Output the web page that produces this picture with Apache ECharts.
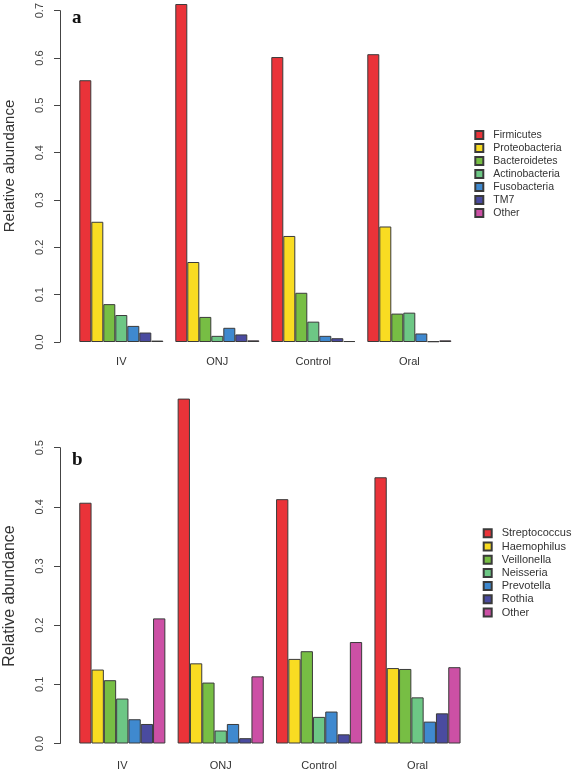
<!DOCTYPE html>
<html>
<head>
<meta charset="utf-8">
<script src="https://cdn.jsdelivr.net/npm/echarts@6/dist/echarts.min.js"></script>
<style>
html,body{margin:0;padding:0;background:#fff;}
#chart{width:572px;height:773px;}
</style>
</head>
<body>
<div id="chart"></div>
<script>
// ---- data ----
var categories = ['IV', 'ONJ', 'Control', 'Oral'];
var yTicksA = [0, 0.1, 0.2, 0.3, 0.4, 0.5, 0.6, 0.7];
var yTicksB = [0, 0.1, 0.2, 0.3, 0.4, 0.5];

var phylaNames = ['Firmicutes', 'Proteobacteria', 'Bacteroidetes', 'Actinobacteria', 'Fusobacteria', 'TM7', 'Other'];
var firmicutes     = [0.553, 0.714, 0.602, 0.608];
var proteobacteria = [0.254, 0.169, 0.224, 0.244];
var bacteroidetes  = [0.080, 0.053, 0.104, 0.060];
var actinobacteria = [0.057, 0.013, 0.043, 0.062];
var fusobacteria   = [0.034, 0.030, 0.013, 0.018];
var tm7            = [0.020, 0.016, 0.008, 0.0015];
var otherA         = [0.003, 0.0035, 0.002, 0.0035];

var generaNames = ['Streptococcus', 'Haemophilus', 'Veillonella', 'Neisseria', 'Prevotella', 'Rothia', 'Other'];
var streptococcus = [0.407, 0.583, 0.413, 0.450];
var haemophilus   = [0.125, 0.1355, 0.143, 0.1275];
var veillonella   = [0.107, 0.103, 0.156, 0.126];
var neisseria     = [0.076, 0.022, 0.045, 0.078];
var prevotella    = [0.041, 0.033, 0.054, 0.037];
var rothia        = [0.033, 0.009, 0.0155, 0.051];
var otherB        = [0.2115, 0.1135, 0.1715, 0.129];

var palette = ['#EA3339', '#F9DC22', '#77BE44', '#6DC785', '#3F89CF', '#4A4BA0', '#CC50A5'];

var seriesA = [firmicutes, proteobacteria, bacteroidetes, actinobacteria, fusobacteria, tm7, otherA];
var seriesB = [streptococcus, haemophilus, veillonella, neisseria, prevotella, rothia, otherB];

var FONT = 'Liberation Sans, Arial, sans-serif';

function makeSeries(names, values, axisIdx, catGap) {
  return names.map(function (n, i) {
    return {
      type: 'bar',
      name: n,
      xAxisIndex: axisIdx,
      yAxisIndex: axisIdx,
      data: values[i],
      barGap: '0%',
      barCategoryGap: catGap,
      clip: false,
      itemStyle: { color: palette[i], borderColor: '#3a3a3a', borderWidth: 1 },
      emphasis: { disabled: true },
      animation: false
    };
  });
}

function yAxisFor(idx, maxV, offset, fs) {
  return {
    type: 'value', gridIndex: idx, min: 0, max: maxV, interval: 0.1, offset: offset,
    splitLine: { show: false },
    axisLine: { show: true, lineStyle: { color: '#444', width: 1 } },
    axisTick: { show: true, length: 6, lineStyle: { color: '#444' } },
    axisLabel: { rotate: 90, margin: 15, fontSize: fs, color: '#444', fontFamily: FONT,
      formatter: function (v) { return v.toFixed(1); } }
  };
}

var chart = echarts.init(document.getElementById('chart'));
var option = {
  animation: false,
  backgroundColor: '#ffffff',
  grid: [
    { left: 73.3, width: 384, top: 9, height: 333 },
    { left: 73.1, width: 393.6, top: 447.7, height: 295.8 }
  ],
  xAxis: [
    { type: 'category', gridIndex: 0, data: categories,
      axisLine: { show: false }, axisTick: { show: false },
      axisLabel: { margin: 14, fontSize: 11, color: '#333', fontFamily: FONT } },
    { type: 'category', gridIndex: 1, data: categories,
      axisLine: { show: false }, axisTick: { show: false },
      axisLabel: { margin: 17, fontSize: 11, color: '#333', fontFamily: FONT } }
  ],
  yAxis: [ yAxisFor(0, 0.7, 13.3, 11), yAxisFor(1, 0.5, 13.1, 11) ],
  legend: [
    { orient: 'vertical', left: 474.3, top: 128.5, padding: 0, data: phylaNames,
      itemWidth: 8, itemHeight: 8, itemGap: 0, icon: 'rect', selectedMode: false,
      textStyle: { fontSize: 10.5, lineHeight: 13, color: '#333', fontFamily: FONT, padding: [0, 0, 0, 5] } },
    { orient: 'vertical', left: 482.7, top: 526.7, padding: 0, data: generaNames,
      itemWidth: 8, itemHeight: 8, itemGap: 0, icon: 'rect', selectedMode: false,
      textStyle: { fontSize: 11, lineHeight: 13.2, color: '#333', fontFamily: FONT, padding: [0, 0, 0, 5] } }
  ],
  graphic: [
    { type: 'text', x: 10, y: 166, rotation: Math.PI / 2,
      style: { text: 'Relative abundance', fontSize: 15, fontFamily: FONT, fill: '#333',
        align: 'center', verticalAlign: 'middle' } },
    { type: 'text', x: 10, y: 596, rotation: Math.PI / 2,
      style: { text: 'Relative abundance', fontSize: 16, fontFamily: FONT, fill: '#333',
        align: 'center', verticalAlign: 'middle' } },
    { type: 'text', x: 72, y: 18, style: { text: 'a', fontSize: 19, fontWeight: 'bold',
        fontFamily: 'Liberation Serif, Times New Roman, serif', fill: '#111', verticalAlign: 'middle' } },
    { type: 'text', x: 72, y: 460, style: { text: 'b', fontSize: 19, fontWeight: 'bold',
        fontFamily: 'Liberation Serif, Times New Roman, serif', fill: '#111', verticalAlign: 'middle' } }
  ],
  series: makeSeries(phylaNames, seriesA, 0, '12.5%').concat(makeSeries(generaNames, seriesB, 1, '12.5%'))
};
chart.setOption(option);
</script>
</body>
</html>
